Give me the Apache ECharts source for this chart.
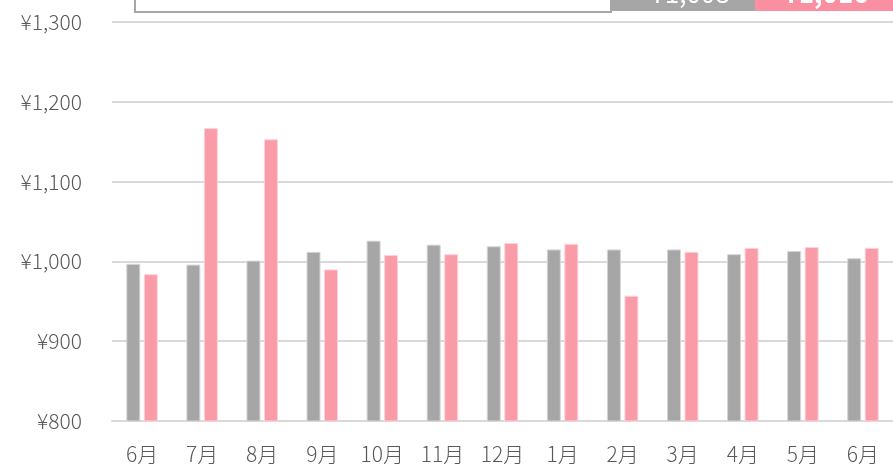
<!DOCTYPE html>
<html>
<head>
<meta charset="utf-8">
<script src="https://cdn.jsdelivr.net/npm/echarts@6/dist/echarts.min.js"></script>
<style>
  html, body { margin: 0; padding: 0; background: #fff; }
  #chart { width: 893px; height: 468px; }
</style>
</head>
<body>
<div id="chart"></div>
<script>
// month labels
var months = ['6月', '7月', '8月', '9月', '10月', '11月', '12月', '1月', '2月', '3月', '4月', '5月', '6月'];

// gray series (previous) and pink series (current)
var grayValues = [997, 996, 1001, 1012, 1026, 1021, 1019, 1015, 1015, 1015, 1009, 1013, 1004];
var pinkValues = [984, 1167, 1153, 990, 1008, 1009, 1023, 1022, 957, 1012, 1017, 1018, 1017];

// summary figures shown in the (cropped) header boxes
var summaryTexts = ['¥1,008', '¥1,016'];

var labelFont = '"Noto Sans CJK JP", "Noto Sans", sans-serif';

function yenLabel(v) {
    return '¥' + v.toLocaleString('en-US');
}

var chart = echarts.init(document.getElementById('chart'));

var option = {
    animation: false,
    grid: {
        left: 112,
        right: -3,
        top: 22,
        bottom: 47
    },
    graphic: [
        {
            type: 'rect',
            shape: { x: 135, y: -10, width: 476, height: 22 },
            style: { fill: '#fff', stroke: '#a6a6a6', lineWidth: 2 }
        },
        {
            type: 'rect',
            shape: { x: 610, y: -10, width: 145, height: 21 },
            style: { fill: '#a6a6a6' }
        },
        {
            type: 'rect',
            shape: { x: 755, y: -10, width: 140, height: 21 },
            style: { fill: '#f98fa0' }
        },
        {
            type: 'text',
            style: {
                x: 690, y: 6, text: summaryTexts[0],
                fill: '#fff', font: '26px ' + labelFont,
                textAlign: 'center', textVerticalAlign: 'bottom'
            }
        },
        {
            type: 'text',
            style: {
                x: 826, y: 6, text: summaryTexts[1],
                fill: '#fff', font: 'bold 26px ' + labelFont,
                textAlign: 'center', textVerticalAlign: 'bottom'
            }
        }
    ],
    xAxis: {
        type: 'category',
        data: months,
        axisTick: { show: false },
        axisLine: { lineStyle: { color: '#d9d9d9', width: 2 } },
        axisLabel: {
            color: '#595959',
            fontSize: 21,
            fontWeight: 300,
            fontFamily: labelFont,
            margin: 23
        }
    },
    yAxis: {
        type: 'value',
        min: 800,
        max: 1300,
        interval: 100,
        axisLine: { show: false },
        axisTick: { show: false },
        splitLine: { lineStyle: { color: '#d9d9d9', width: 2 } },
        axisLabel: {
            color: '#595959',
            fontSize: 21,
            fontWeight: 300,
            fontFamily: labelFont,
            margin: 30,
            formatter: yenLabel
        }
    },
    series: [
        {
            name: 'gray',
            type: 'bar',
            data: grayValues,
            barWidth: 14,
            barGap: '25%',
            itemStyle: { color: '#a6a6a6', borderColor: '#d6d6d6', borderWidth: 1 }
        },
        {
            name: 'pink',
            type: 'bar',
            data: pinkValues,
            barWidth: 14,
            itemStyle: { color: '#f99ca8', borderColor: '#fdd3da', borderWidth: 1 }
        }
    ]
};

chart.setOption(option);
</script>
</body>
</html>
